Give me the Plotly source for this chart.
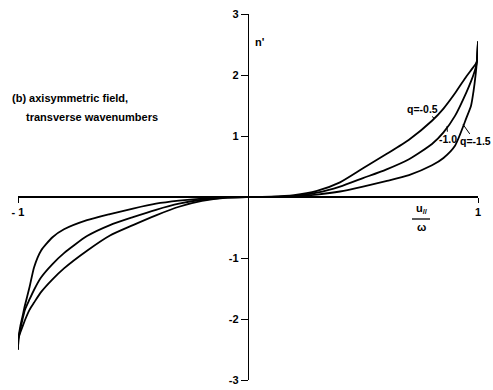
import plotly.graph_objects as go

# Series: n' versus u_parallel/omega for three q values
u_right = [0, 0.1, 0.2, 0.3, 0.4, 0.5, 0.6, 0.7, 0.8, 0.85, 0.9, 0.95, 0.97, 0.98, 0.99, 0.995, 1.0]
n_q05_right = [0, 0.005, 0.03, 0.1, 0.24, 0.47, 0.7, 0.94, 1.25, 1.45, 1.7, 1.98, 2.08, 2.13, 2.18, 2.22, 2.55]
n_q10_right = [0, 0.003, 0.02, 0.07, 0.17, 0.31, 0.45, 0.62, 0.87, 1.06, 1.33, 1.72, 1.9, 2.0, 2.12, 2.22, 2.55]
n_q15_right = [0, 0.002, 0.01, 0.04, 0.09, 0.17, 0.26, 0.36, 0.52, 0.64, 0.84, 1.3, 1.5, 1.72, 2.02, 2.22, 2.55]

u_left = [-1.0, -0.998, -0.99, -0.98, -0.97, -0.95, -0.93, -0.9, -0.85, -0.8, -0.7, -0.6, -0.5, -0.4, -0.3, -0.2, -0.1, 0]
n_q05_left = [-2.5, -2.32, -2.22, -2.12, -2.02, -1.85, -1.73, -1.56, -1.35, -1.17, -0.88, -0.63, -0.46, -0.3, -0.16, -0.065, -0.012, 0]
n_q10_left = [-2.5, -2.32, -2.17, -2.0, -1.85, -1.68, -1.52, -1.32, -1.1, -0.92, -0.64, -0.46, -0.33, -0.21, -0.11, -0.045, -0.008, 0]
n_q15_left = [-2.5, -2.32, -2.12, -1.95, -1.78, -1.48, -1.15, -0.88, -0.66, -0.53, -0.38, -0.28, -0.19, -0.11, -0.06, -0.025, -0.005, 0]

series_names = ["q=-0.5", "q=-1.0", "q=-1.5"]
x_ticks = [-1, 1]
x_ticktext = ["- 1", "1"]
y_ticks = [-3, -2, -1, 1, 2, 3]
y_ticktext = ["-3", "-2", "-1", "1", "2", "3"]

FONT = "Liberation Sans"
TF = dict(family=FONT, size=11, color="black", weight="bold")

fig = go.Figure()
left_sets = [n_q05_left, n_q10_left, n_q15_left]
right_sets = [n_q05_right, n_q10_right, n_q15_right]
for name, nl, nr in zip(series_names, left_sets, right_sets):
    fig.add_trace(go.Scatter(
        x=u_left + u_right[1:], y=nl + nr[1:], mode="lines", name=name,
        line=dict(color="black", width=1.8, shape="spline", smoothing=0.6),
        cliponaxis=False, showlegend=False, hoverinfo="skip"))

fig.update_layout(
    width=493, height=390,
    margin=dict(l=18, r=15, t=14, b=10, autoexpand=False),
    paper_bgcolor="white", plot_bgcolor="white",
    font=TF,
    xaxis=dict(range=[-1, 1], anchor="free", position=0.5, showline=True,
               automargin=False,
               linecolor="black", linewidth=1.5, ticks="outside", ticklen=5,
               tickwidth=1.3, tickcolor="black", tickvals=x_ticks,
               ticktext=x_ticktext, showgrid=False, zeroline=False,
               tickfont=TF),
    yaxis=dict(range=[-3, 3], anchor="free", position=0.5, showline=True,
               automargin=False,
               linecolor="black", linewidth=1.3, ticks="outside", ticklen=7,
               tickwidth=1.2, tickcolor="black", tickvals=y_ticks,
               ticktext=y_ticktext, showgrid=False, zeroline=False,
               tickfont=TF),
)

ann = [
    dict(text="(b) axisymmetric field,", x=10, y=98, xanchor="left"),
    dict(text="transverse wavenumbers", x=24, y=117, xanchor="left"),
    dict(text="n'", x=260, y=42, xanchor="center"),
    dict(text="u<sub>//</sub>", x=422, y=209, xanchor="center"),
    dict(text="ω", x=421, y=227, xanchor="center"),
]
for a in ann:
    fig.add_annotation(text=a["text"], xref="paper", yref="paper",
                       x=(a["x"] - 18) / 460, y=1 - (a["y"] - 14) / 366,
                       xanchor=a["xanchor"], yanchor="middle", showarrow=False,
                       font=TF)

fig.add_shape(type="line", xref="paper", yref="paper",
              x0=(412 - 18) / 460, x1=(430 - 18) / 460,
              y0=1 - (219 - 14) / 366, y1=1 - (219 - 14) / 366,
              line=dict(color="black", width=1.3))

# curve labels with short leader lines
labels = [("q=-0.5", 0.813, 1.28, -12, -10), ("-1.0", 0.865, 1.16, 1, 13), ("q=-1.5", 0.935, 1.19, 12, 17)]
for txt, ux, uy, ax, ay in labels:
    fig.add_annotation(text=txt, x=ux, y=uy, xref="x", yref="y", ax=ax, ay=ay,
                       showarrow=True, arrowhead=0, arrowwidth=1, arrowcolor="black",
                       font=dict(family=FONT, size=10.5, color="black", weight="bold"))

fig.write_html("out.html", config={"displayModeBar": False},
               post_script="document.body.style.margin='0px';")
